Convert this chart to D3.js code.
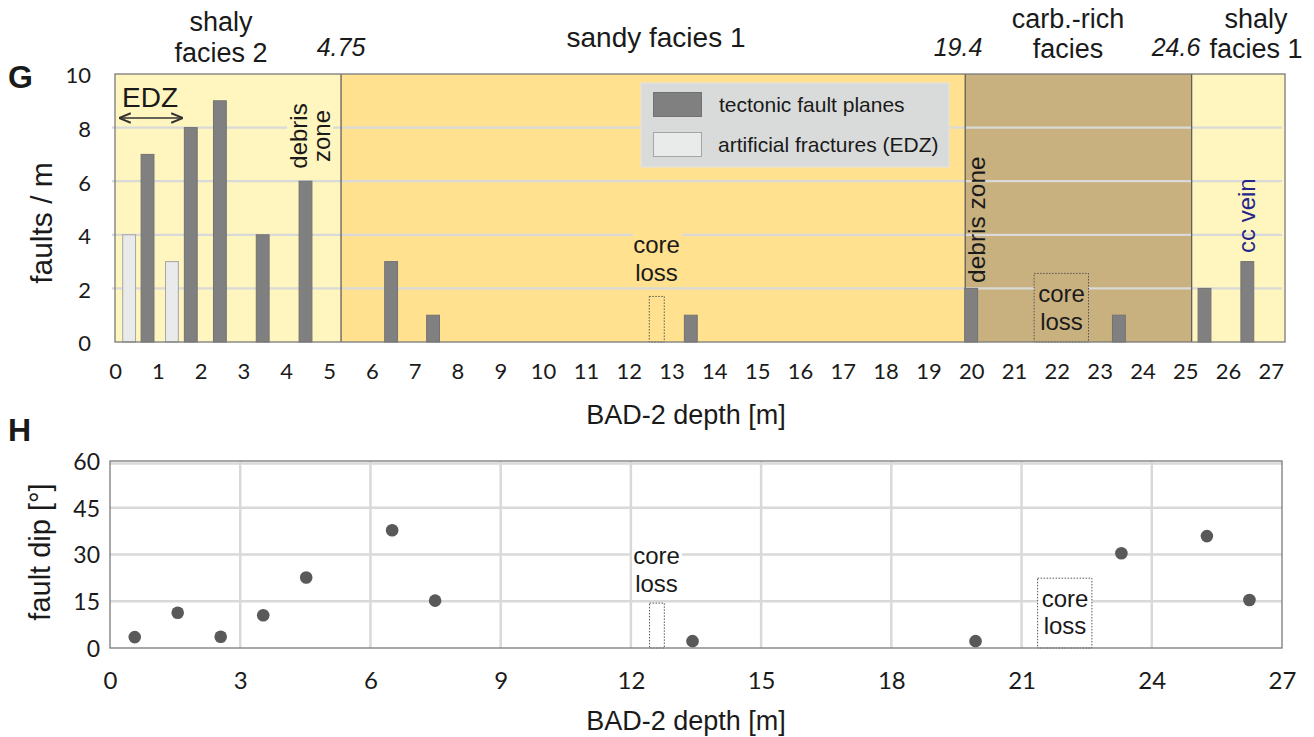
<!DOCTYPE html>
<html>
<head>
<meta charset="utf-8">
<script src="https://cdn.jsdelivr.net/npm/d3@7"></script>
<style>
  html, body { margin: 0; padding: 0; background: #fff; }
  svg { display: block; }
  text { font-family: "Liberation Sans", Arial, sans-serif; fill: #1a1a1a; }
  .tick text { font-family: Lato, "Open Sans", sans-serif; }
</style>
</head>
<body>
<svg id="chart" width="1314" height="737"></svg>
<script>
// ---------------- DATA ----------------
// Panel G: fault frequency (faults / m) vs depth (x positions in axis units)
const tectonicDepth = [0.76, 1.77, 2.45, 3.45, 4.45, 6.45, 7.43, 13.45, 20.0, 23.45, 25.45, 26.45];
const tectonicCount = [7, 8, 9, 4, 6, 3, 1, 1, 2, 1, 2, 3];
const edzDepth = [0.33, 1.33];
const edzCount = [4, 3];
const barWidth = 0.3;

// facies intervals (drawn positions) and labels
const faciesStart = [0, 5.28, 19.86, 25.15];
const faciesEnd   = [5.28, 19.86, 25.15, 27.33];
const faciesKind  = ["shaly", "sandy", "carb", "shaly"];
const boundaryLabels = ["4.75", "19.4", "24.6"];

// core loss intervals [from, to, height]
const coreLossG = [[12.48, 12.83, 1.7], [21.47, 22.74, 2.56]];
const coreLossH = [[12.43, 12.77, 14.4], [21.37, 22.62, 22.4]];

const xTicksG = d3.range(0, 28, 1);
const yTicksG = [0, 2, 4, 6, 8, 10];

// Panel H: fault dip (deg) vs depth
const dipDepth = [0.57, 1.56, 2.55, 3.53, 4.52, 6.5, 7.49, 13.42, 19.94, 23.3, 25.27, 26.25];
const dipAngle = [3.5, 11.3, 3.6, 10.5, 22.6, 37.8, 15.2, 2.2, 2.2, 30.4, 35.9, 15.4];
const xTicksH = [0, 3, 6, 9, 12, 15, 18, 21, 24, 27];
const yTicksH = [0, 15, 30, 45, 60];

// ---------------- STYLE ----------------
const faciesColor = { shaly: "#fff6bf", sandy: "#ffe190", carb: "#c8b07f" };
const gridColor = "#d9d9d9";
const borderColor = "#7a7a7a";

const svg = d3.select("#chart");

// ================= PANEL G =================
const gx = d3.scaleLinear().domain([0, 27.33]).range([115, 1285]);
const gy = d3.scaleLinear().domain([0, 10]).range([342, 74]);

const G = svg.append("g");

// facies backgrounds
G.selectAll("rect.facies").data(faciesStart).enter().append("rect")
  .attr("x", (d) => gx(d)).attr("y", gy(10))
  .attr("width", (d, i) => gx(faciesEnd[i]) - gx(d))
  .attr("height", gy(0) - gy(10))
  .attr("fill", (d, i) => faciesColor[faciesKind[i]]);

// gridlines
G.selectAll("line.grid").data(yTicksG.filter(v => v > 0 && v < 10)).enter().append("line")
  .attr("x1", gx(0) - 3).attr("x2", gx(27.33) - 3)
  .attr("y1", d => gy(d)).attr("y2", d => gy(d))
  .attr("stroke", gridColor).attr("stroke-width", 2.2);

// facies boundaries
G.selectAll("line.bound").data(faciesStart.slice(1)).enter().append("line")
  .attr("x1", d => gx(d)).attr("x2", d => gx(d))
  .attr("y1", gy(10)).attr("y2", gy(0))
  .attr("stroke", "#555").attr("stroke-width", 1.2);

// core loss boxes (G)
G.selectAll("rect.cl").data(coreLossG).enter().append("rect")
  .attr("x", d => gx(d[0])).attr("y", d => gy(d[2]))
  .attr("width", d => gx(d[1]) - gx(d[0])).attr("height", d => gy(0) - gy(d[2]))
  .attr("fill", (d, i) => i === 0 ? faciesColor.sandy : faciesColor.carb)
  .attr("stroke", "#555").attr("stroke-width", 1).attr("stroke-dasharray", "1.5,1.5");

// EDZ bars
G.selectAll("rect.edz").data(edzDepth).enter().append("rect")
  .attr("x", d => gx(d - barWidth / 2)).attr("y", (d, i) => gy(edzCount[i]))
  .attr("width", gx(barWidth) - gx(0)).attr("height", (d, i) => gy(0) - gy(edzCount[i]))
  .attr("fill", "#e9ebea").attr("stroke", "#a5a5a5").attr("stroke-width", 1);

// tectonic bars
G.selectAll("rect.tec").data(tectonicDepth).enter().append("rect")
  .attr("x", d => gx(d - barWidth / 2)).attr("y", (d, i) => gy(tectonicCount[i]))
  .attr("width", gx(barWidth) - gx(0)).attr("height", (d, i) => gy(0) - gy(tectonicCount[i]))
  .attr("fill", "#808080").attr("stroke", "#727272").attr("stroke-width", 1);

// plot border
G.append("rect").attr("x", gx(0)).attr("y", gy(10))
  .attr("width", gx(27.33) - gx(0)).attr("height", gy(0) - gy(10))
  .attr("fill", "none").attr("stroke", borderColor).attr("stroke-width", 1.3);

// axes
const gxAxis = G.append("g").attr("transform", `translate(0,${gy(0)})`)
  .call(d3.axisBottom(gx).tickValues(xTicksG).tickSize(0).tickPadding(21).tickFormat(d3.format("d")));
gxAxis.select(".domain").remove();
gxAxis.selectAll("text").attr("font-size", 22).style("fill", "#1a1a1a");

const gyAxis = G.append("g").attr("transform", `translate(${gx(0)},0)`)
  .call(d3.axisLeft(gy).tickValues(yTicksG).tickSize(0).tickPadding(24));
gyAxis.select(".domain").remove();
gyAxis.selectAll("text").attr("font-size", 22).attr("dy", "0.4em").style("fill", "#1a1a1a");

// axis titles
G.append("text").attr("x", 686).attr("y", 424).attr("text-anchor", "middle")
  .attr("font-size", 27).text("BAD-2 depth [m]");
G.append("text").attr("transform", "translate(52,223) rotate(-90)").attr("text-anchor", "middle")
  .attr("font-size", 30).text("faults / m");

// panel letter
G.append("text").attr("x", 8).attr("y", 88).attr("font-size", 32).attr("font-weight", "bold").text("G");

// facies headings
function twoLine(g, x, y1, y2, l1, l2, size) {
  const t = g.append("text").attr("text-anchor", "middle").attr("font-size", size);
  t.append("tspan").attr("x", x).attr("y", y1).text(l1);
  if (l2) t.append("tspan").attr("x", x).attr("y", y2).text(l2);
}
twoLine(G, 221, 31, 62, "shaly", "facies 2", 27);
G.append("text").attr("x", 656).attr("y", 47).attr("text-anchor", "middle").attr("font-size", 28).text("sandy facies 1");
twoLine(G, 1068, 28, 58, "carb.-rich", "facies", 27);
twoLine(G, 1256, 28, 58, "shaly", "facies 1", 27);
const blx = [341, 958, 1176];
G.selectAll("text.bl").data(boundaryLabels).enter().append("text")
  .attr("x", (d, i) => blx[i]).attr("y", 56).attr("text-anchor", "middle")
  .attr("font-size", 25).attr("font-style", "italic").text(d => d);

// EDZ annotation
G.append("text").attr("x", 122).attr("y", 107).attr("font-size", 28).text("EDZ");
const defs = svg.append("defs");
defs.append("marker").attr("id", "ah").attr("viewBox", "0 0 10 10").attr("refX", 9).attr("refY", 5)
  .attr("markerWidth", 8).attr("markerHeight", 8).attr("orient", "auto-start-reverse")
  .append("path").attr("d", "M0,1 L10,5 L0,9").attr("fill", "none").attr("stroke", "#333").attr("stroke-width", 1.6);
G.append("line").attr("x1", 120).attr("x2", 182).attr("y1", 118).attr("y2", 118)
  .attr("stroke", "#333").attr("stroke-width", 1.5)
  .attr("marker-start", "url(#ah)").attr("marker-end", "url(#ah)");

// debris zone (shaly facies 2), with background
G.append("rect").attr("x", 287).attr("y", 100).attr("width", 46).attr("height", 72).attr("fill", faciesColor.shaly);
const dz = G.append("text").attr("font-size", 24).attr("text-anchor", "middle")
  .attr("transform", "translate(307,136) rotate(-90)");
dz.append("tspan").attr("x", 0).attr("y", 0).text("debris");
dz.append("tspan").attr("x", 0).attr("y", 23).text("zone");

// debris zone (carb)
G.append("text").attr("font-size", 24.5).attr("text-anchor", "start")
  .attr("transform", "translate(985,283) rotate(-90)").text("debris zone");

// cc vein
G.append("text").attr("font-size", 24).attr("text-anchor", "start").style("fill", "#25258a")
  .attr("transform", "translate(1255,253) rotate(-90)").text("cc vein");

// core loss text (sandy) with background
G.append("rect").attr("x", 633).attr("y", 233).attr("width", 49).attr("height", 52).attr("fill", faciesColor.sandy);
twoLine(G, 656.5, 253, 281, "core", "loss", 24);
twoLine(G, 1061.5, 302, 330, "core", "loss", 24);

// legend
const lg = G.append("g");
lg.append("rect").attr("x", 641).attr("y", 83).attr("width", 308).attr("height", 84)
  .attr("fill", "#d9dbdb").attr("stroke", "#e3e3e3").attr("stroke-width", 1);
lg.append("rect").attr("x", 653.5).attr("y", 92.5).attr("width", 48).attr("height", 24)
  .attr("fill", "#808080").attr("stroke", "#727272");
lg.append("rect").attr("x", 653.5).attr("y", 132.5).attr("width", 48).attr("height", 24)
  .attr("fill", "#e9ebea").attr("stroke", "#a5a5a5");
lg.append("text").attr("x", 719).attr("y", 112).attr("font-size", 21).text("tectonic fault planes");
lg.append("text").attr("x", 718).attr("y", 152).attr("font-size", 21).text("artificial fractures (EDZ)");

// ================= PANEL H =================
const hx = d3.scaleLinear().domain([0, 27]).range([110, 1282]);
const hy = d3.scaleLinear().domain([0, 60]).range([648, 461]);
const H = svg.append("g");

H.selectAll("line.vg").data(xTicksH.filter(v => v > 0 && v < 27)).enter().append("line")
  .attr("x1", d => hx(d)).attr("x2", d => hx(d)).attr("y1", hy(60)).attr("y2", hy(0))
  .attr("stroke", gridColor).attr("stroke-width", 2.5);
H.selectAll("line.hg").data(yTicksH.filter(v => v > 0)).enter().append("line")
  .attr("x1", hx(0)).attr("x2", hx(27)).attr("y1", d => hy(d) + (d === 60 ? 2.5 : 0)).attr("y2", d => hy(d) + (d === 60 ? 2.5 : 0))
  .attr("stroke", gridColor).attr("stroke-width", 2.5);

H.selectAll("rect.cl").data(coreLossH).enter().append("rect")
  .attr("x", d => hx(d[0])).attr("y", d => hy(d[2]))
  .attr("width", d => hx(d[1]) - hx(d[0])).attr("height", d => hy(0) - hy(d[2]))
  .attr("fill", "#fff").attr("stroke", "#555").attr("stroke-width", 1).attr("stroke-dasharray", "1.5,1.5");

H.append("rect").attr("x", 632).attr("y", 543).attr("width", 50).attr("height", 54).attr("fill", "#fff");
twoLine(H, 656.5, 564, 592, "core", "loss", 24);
twoLine(H, 1065, 607, 634, "core", "loss", 24);

H.selectAll("circle.dip").data(dipDepth).enter().append("circle")
  .attr("cx", d => hx(d)).attr("cy", (d, i) => hy(dipAngle[i])).attr("r", 6.3)
  .attr("fill", "#595959");

H.append("rect").attr("x", hx(0)).attr("y", hy(60)).attr("width", hx(27) - hx(0)).attr("height", hy(0) - hy(60))
  .attr("fill", "none").attr("stroke", borderColor).attr("stroke-width", 1.3);

const hxAxis = H.append("g").attr("transform", `translate(0,${hy(0)})`)
  .call(d3.axisBottom(hx).tickValues(xTicksH).tickSize(0).tickPadding(24));
hxAxis.select(".domain").remove();
hxAxis.selectAll("text").attr("font-size", 24).style("fill", "#1a1a1a");
const hyAxis = H.append("g").attr("transform", `translate(${hx(0)},0)`)
  .call(d3.axisLeft(hy).tickValues(yTicksH).tickSize(0).tickPadding(10));
hyAxis.select(".domain").remove();
hyAxis.selectAll("text").attr("font-size", 23).attr("dy", "0.36em").style("fill", "#1a1a1a");

H.append("text").attr("x", 686).attr("y", 730).attr("text-anchor", "middle")
  .attr("font-size", 27).text("BAD-2 depth [m]");
H.append("text").attr("transform", "translate(50,552) rotate(-90)").attr("text-anchor", "middle")
  .attr("font-size", 29).text("fault dip [°]");
H.append("text").attr("x", 8).attr("y", 441).attr("font-size", 32).attr("font-weight", "bold").text("H");
</script>
</body>
</html>
